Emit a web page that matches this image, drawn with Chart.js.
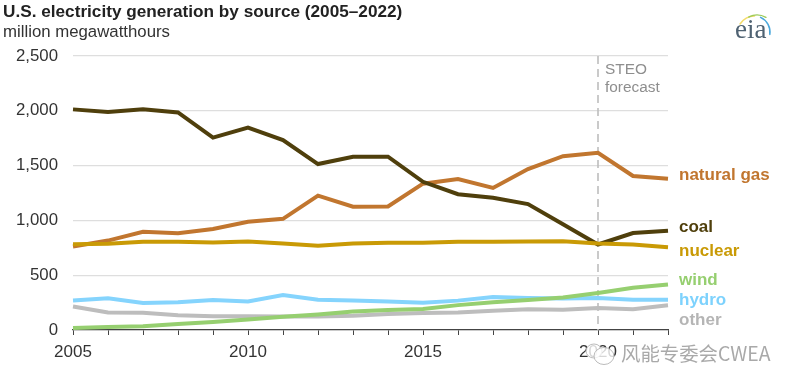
<!DOCTYPE html>
<html><head><meta charset="utf-8">
<style>
html,body{margin:0;padding:0;background:#fff;overflow:hidden}
#wrap{position:relative;width:800px;height:389px}
</style>
<script src="https://cdn.jsdelivr.net/npm/chart.js@4"></script>
</head><body>
<div id="wrap"><canvas id="c" width="800" height="389"></canvas></div>
<script>
const years=[2005,2006,2007,2008,2009,2010,2011,2012,2013,2014,2015,2016,2017,2018,2019,2020,2021,2022];
const yTicks=[0,500,1000,1500,2000,2500];
const xLabelYears=[2005,2010,2015,2020];
const coal=[2013,1990,2013,1985,1755,1847,1733,1514,1581,1581,1352,1239,1206,1149,964,780,885,905];
const gas=[761,816,897,883,921,988,1014,1226,1125,1127,1335,1378,1296,1469,1586,1617,1405,1380];
const nuclear=[782,787,806,806,799,807,790,769,789,797,797,806,805,807,809,790,780,755];
const wind=[18,27,34,55,74,95,120,141,168,182,191,227,254,273,296,338,385,415];
const hydro=[270,289,247,254,273,260,319,276,269,259,249,268,300,292,288,291,277,277];
const other=[215,160,157,135,126,125,123,123,130,145,155,160,175,190,185,200,190,225];
const forecastYear=2020;
const seriesLabels=[
 {t:'natural gas',c:'#c1762f',v:1410},
 {t:'coal',c:'#4f3f0c',v:940},
 {t:'nuclear',c:'#c99a05',v:718},
 {t:'wind',c:'#96cf70',v:452},
 {t:'hydro',c:'#7dd2fd',v:272},
 {t:'other',c:'#b5b5b5',v:90}
];
const FONT='"Liberation Sans",Arial,sans-serif';
const mk=(label,data,color)=>({label,data,borderColor:color,backgroundColor:color,borderWidth:4,pointRadius:0,tension:0,borderJoinStyle:'miter',borderCapStyle:'butt',clip:false});
const overlay={
 id:'overlay',
 afterDraw(ch){
  const {ctx,scales:{x,y}}=ch;
  ctx.save();
  ctx.textBaseline='alphabetic';
  ctx.textAlign='left';
  ctx.fillStyle='#222';
  ctx.font='bold 17.2px '+FONT;
  ctx.fillText('U.S. electricity generation by source (2005–2022)',3,17);
  ctx.fillStyle='#333';
  ctx.font='16.8px '+FONT;
  ctx.fillText('million megawatthours',3,37);
  ctx.font='bold 17px '+FONT;
  ctx.textBaseline='middle';
  const lx=x.right+11;
  seriesLabels.forEach(s=>{ctx.fillStyle=s.c;ctx.fillText(s.t,lx,y.getPixelForValue(s.v));});
  const fi=years.indexOf(forecastYear);
  ctx.fillStyle='#8e8e8e';
  ctx.font='15.4px '+FONT;
  ctx.textBaseline='alphabetic';
  ctx.fillText('STEO',x.getPixelForValue(fi)+7,74);
  ctx.fillText('forecast',x.getPixelForValue(fi)+7,92);
  // eia logo
  ctx.lineCap='round';
  const arc=(c,r,a,b,w,cx,cy)=>{ctx.strokeStyle=c;ctx.lineWidth=w;ctx.beginPath();ctx.arc(cx,cy,r,a,b);ctx.stroke();};
  arc('#f4dc6a',18,-2.55,-1.6,1.5,755,34);
  arc('#9ccb5a',18,-2.05,-1.05,1.4,757,33);
  arc('#4aa8dc',16,-1.15,0.15,1.5,754,32);
  ctx.fillStyle='#4f6272';
  ctx.font='27px "Liberation Serif",serif';
  ctx.textAlign='left';
  ctx.fillText('eia',735,38);
  // watermark
  ctx.fillStyle='rgba(255,255,255,.8)';
  ctx.strokeStyle='#bbb';
  ctx.lineWidth=1;
  ctx.beginPath();ctx.ellipse(594,351,8,7,0,0,Math.PI*2);ctx.fill();ctx.stroke();
  ctx.beginPath();ctx.ellipse(604,356,10,8.5,0,0,Math.PI*2);ctx.fill();ctx.stroke();
  ctx.fillStyle='#a9a9a9';
  ctx.font='19.4px "Noto Sans CJK SC",sans-serif';
  ctx.textBaseline='middle';
  ctx.fillText('风能专委会CWEA',621,354);
  ctx.restore();
 },
 beforeDatasetsDraw(ch){
  const {ctx,scales:{x,y}}=ch;
  const fx=Math.round(x.getPixelForValue(years.indexOf(forecastYear)));
  ctx.save();
  ctx.strokeStyle='#bdbdbd';ctx.lineWidth=1.6;ctx.setLineDash([8,5]);
  ctx.beginPath();ctx.moveTo(fx,y.top);ctx.lineTo(fx,y.bottom);ctx.stroke();
  ctx.restore();
 }
};
new Chart(document.getElementById('c'),{
 type:'line',
 plugins:[overlay],
 data:{labels:years,datasets:[
  mk('other',other,'#bdbdbd'),
  mk('hydro',hydro,'#85d4fd'),
  mk('wind',wind,'#96cf70'),
  mk('natural gas',gas,'#c1762f'),
  mk('coal',coal,'#4f3f0c'),
  mk('nuclear',nuclear,'#c99a05')
 ].map((d,i)=>({...d,order:6-i}))},
 options:{
  responsive:false,animation:false,
  layout:{padding:{left:0,right:132,top:56,bottom:0}},
  plugins:{legend:{display:false},tooltip:{enabled:false},title:{display:false}},
  scales:{
   x:{type:'category',offset:false,
    border:{color:'#444',width:1.2},
    grid:{drawOnChartArea:false,drawTicks:true,tickLength:5,color:'#444',lineWidth:1},
    ticks:{autoSkip:false,maxRotation:0,minRotation:0,padding:7,color:'#333',font:{family:FONT,size:17},
      callback(v,i){const yr=years[i];return xLabelYears.includes(yr)?String(yr):'';}},
    afterFit(s){s.height=59;}
   },
   y:{min:0,max:2500,
    afterBuildTicks(s){s.ticks=yTicks.map(value=>({value}));},
    border:{display:false},
    grid:{color:'#dedede',lineWidth:1.3,drawTicks:false},
    ticks:{padding:15,color:'#333',font:{family:FONT,size:16.8},
      callback(v){return v.toLocaleString('en-US');}},
    afterFit(s){s.width=73;}
   }
  }
 }
});
</script>
</body></html>
